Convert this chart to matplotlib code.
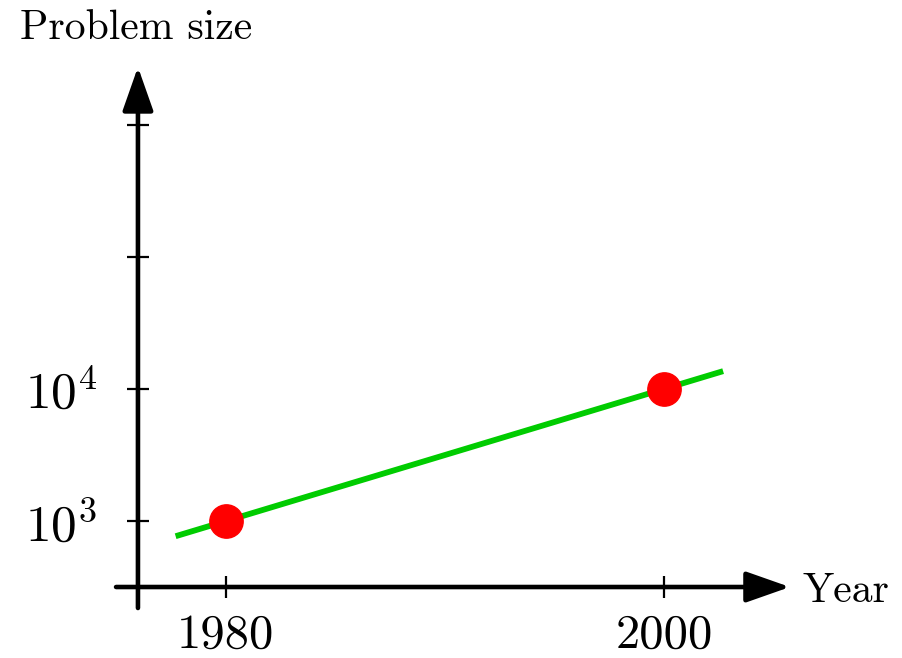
import matplotlib
matplotlib.use('Agg')
import matplotlib.pyplot as plt
from matplotlib.ticker import FixedLocator, NullLocator

plt.rcParams['font.family'] = ['cmr10', 'DejaVu Serif']
plt.rcParams['mathtext.fontset'] = 'cm'

# data
years = [1980, 2000]
sizes = [1e3, 1e4]
trend_years = [1977.7, 2002.7]
trend_sizes = [767, 13650]
xtick_vals = [1980, 2000]
xtick_labels = ['1980', '2000']
ytick_vals = [1e3, 1e4, 1e5, 1e6]
ytick_labels = ['$10^{3}$', '$10^{4}$', '', '']

fig = plt.figure(figsize=(9.03, 6.58), dpi=100)
ax = fig.add_axes([100/903, 43/658, 700/903, 555/658])
ax.set_yscale('log')
ax.set_xlim(1974.247, 2006.21)
ax.set_ylim(10**2.288, 10**6.492)

# axes crossing, drawn with arrows
x_axis_y = 10**2.5
y_axis_x = 1975.98
for s in ax.spines.values():
    s.set_visible(False)
ax.spines['bottom'].set_position(('data', x_axis_y))
ax.spines['left'].set_position(('data', y_axis_x))

arrow = dict(arrowstyle='-|>,head_length=27,head_width=9.5', mutation_scale=1,
             lw=3.3, color='black', shrinkA=0, shrinkB=0)
ax.annotate('', xy=(2005.75, x_axis_y), xytext=(1974.98, x_axis_y),
            arrowprops=arrow, annotation_clip=False)
ax.annotate('', xy=(y_axis_x, 10**6.439), xytext=(y_axis_x, 10**2.341),
            arrowprops=arrow, annotation_clip=False)

ax.xaxis.set_major_locator(FixedLocator(xtick_vals))
ax.set_xticklabels(xtick_labels)
ax.yaxis.set_major_locator(FixedLocator(ytick_vals))
ax.yaxis.set_minor_locator(NullLocator())
ax.set_yticklabels(ytick_labels)
ax.tick_params(axis='x', direction='inout', length=16, width=1.6, pad=11, labelsize=35)
ax.tick_params(axis='y', direction='inout', length=16, width=1.6, pad=21, labelsize=37)

ax.plot(trend_years, trend_sizes, color='#00cc00', lw=4.2, solid_capstyle='butt', zorder=3)
ax.plot(years, sizes, 'o', color='#ff0000', ms=24, zorder=4)

fig.text(20/903, 1 - 39/658, 'Problem size', fontsize=30, va='baseline', ha='left')
fig.text(803/903, 1 - 602/658, 'Year', fontsize=30, va='baseline', ha='left')

fig.savefig('out.png', dpi=100)
